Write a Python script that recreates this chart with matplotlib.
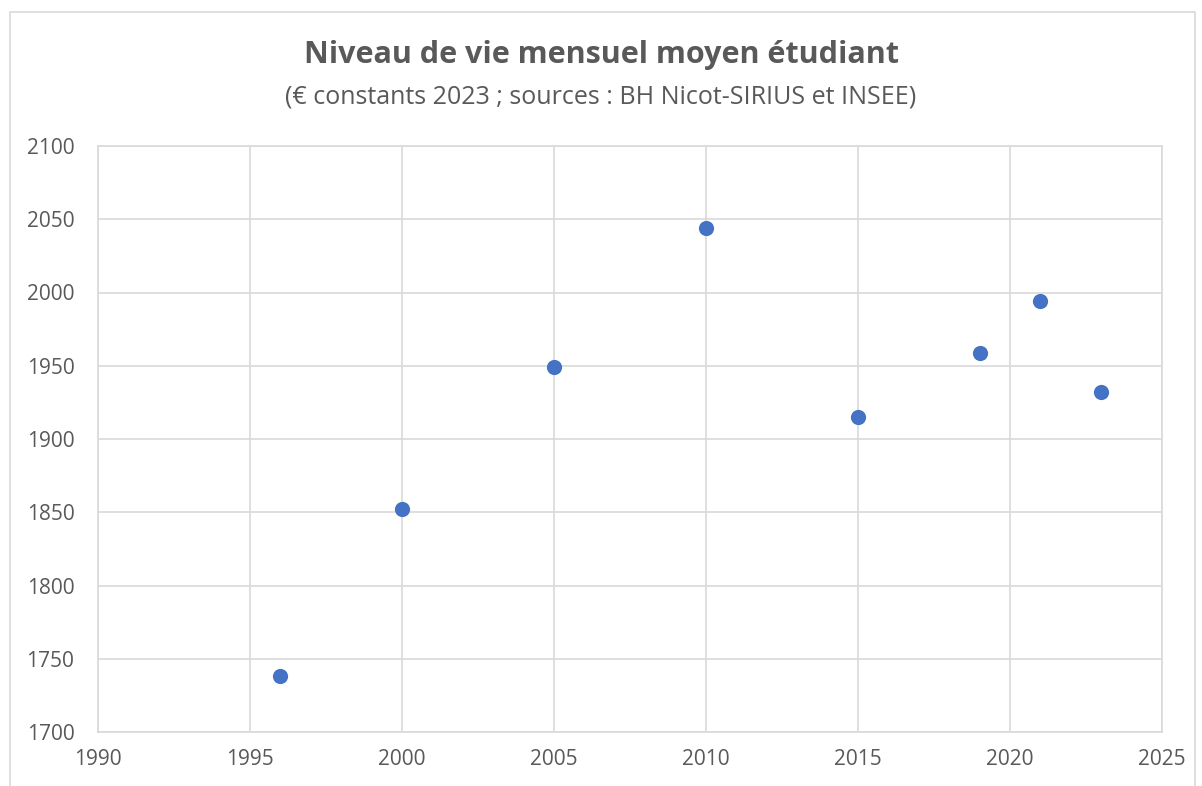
import matplotlib.pyplot as plt
from matplotlib.patches import Rectangle

# data
years = [1996, 2000, 2005, 2010, 2015, 2019, 2021, 2023]
niveau = [1738, 1852, 1949, 2044, 1915, 1959, 1994, 1932]

x_ticks = [1990, 1995, 2000, 2005, 2010, 2015, 2020, 2025]
y_ticks = [1700, 1750, 1800, 1850, 1900, 1950, 2000, 2050, 2100]

TITLE = "Niveau de vie mensuel moyen étudiant"
SUBTITLE = "(€ constants 2023 ; sources : BH Nicot-SIRIUS et INSEE)"

TEXT = "#595959"
GRID = "#d9d9d9"
BLUE = "#4472c4"

plt.rcParams["font.family"] = ["Open Sans", "DejaVu Sans"]

W, H = 1202, 786
fig = plt.figure(figsize=(W / 100, H / 100), dpi=100)

# chart outer border
fig.patches.append(Rectangle((10 / W, -0.01), (1195 - 10) / W, 1 - 12 / H + 0.01,
                             transform=fig.transFigure, fill=False,
                             edgecolor=GRID, linewidth=1.2))

left, right, top, bottom = 98, 1162, 146, 732
ax = fig.add_axes([left / W, 1 - bottom / H, (right - left) / W, (bottom - top) / H])

ax.scatter(years, niveau, s=120, color=BLUE, zorder=3, linewidths=0)

ax.set_xlim(1990, 2025)
ax.set_ylim(1700, 2100)
ax.set_xticks(x_ticks)
ax.set_yticks(y_ticks)
ax.grid(True, color=GRID, linewidth=1.2)
ax.set_axisbelow(True)
for s in ax.spines.values():
    s.set_color(GRID)
    s.set_linewidth(1.2)
ax.tick_params(length=0, labelsize=15, colors=TEXT, pad=12)
ax.tick_params(axis="y", pad=17)

fig.text(0.5, 1 - 55 / H, TITLE, ha="center", va="center",
         fontsize=22, fontweight="bold", color=TEXT)
fig.text(0.5, 1 - 97 / H, SUBTITLE, ha="center", va="center",
         fontsize=18, color=TEXT)

fig.savefig("out.png", dpi=100)
